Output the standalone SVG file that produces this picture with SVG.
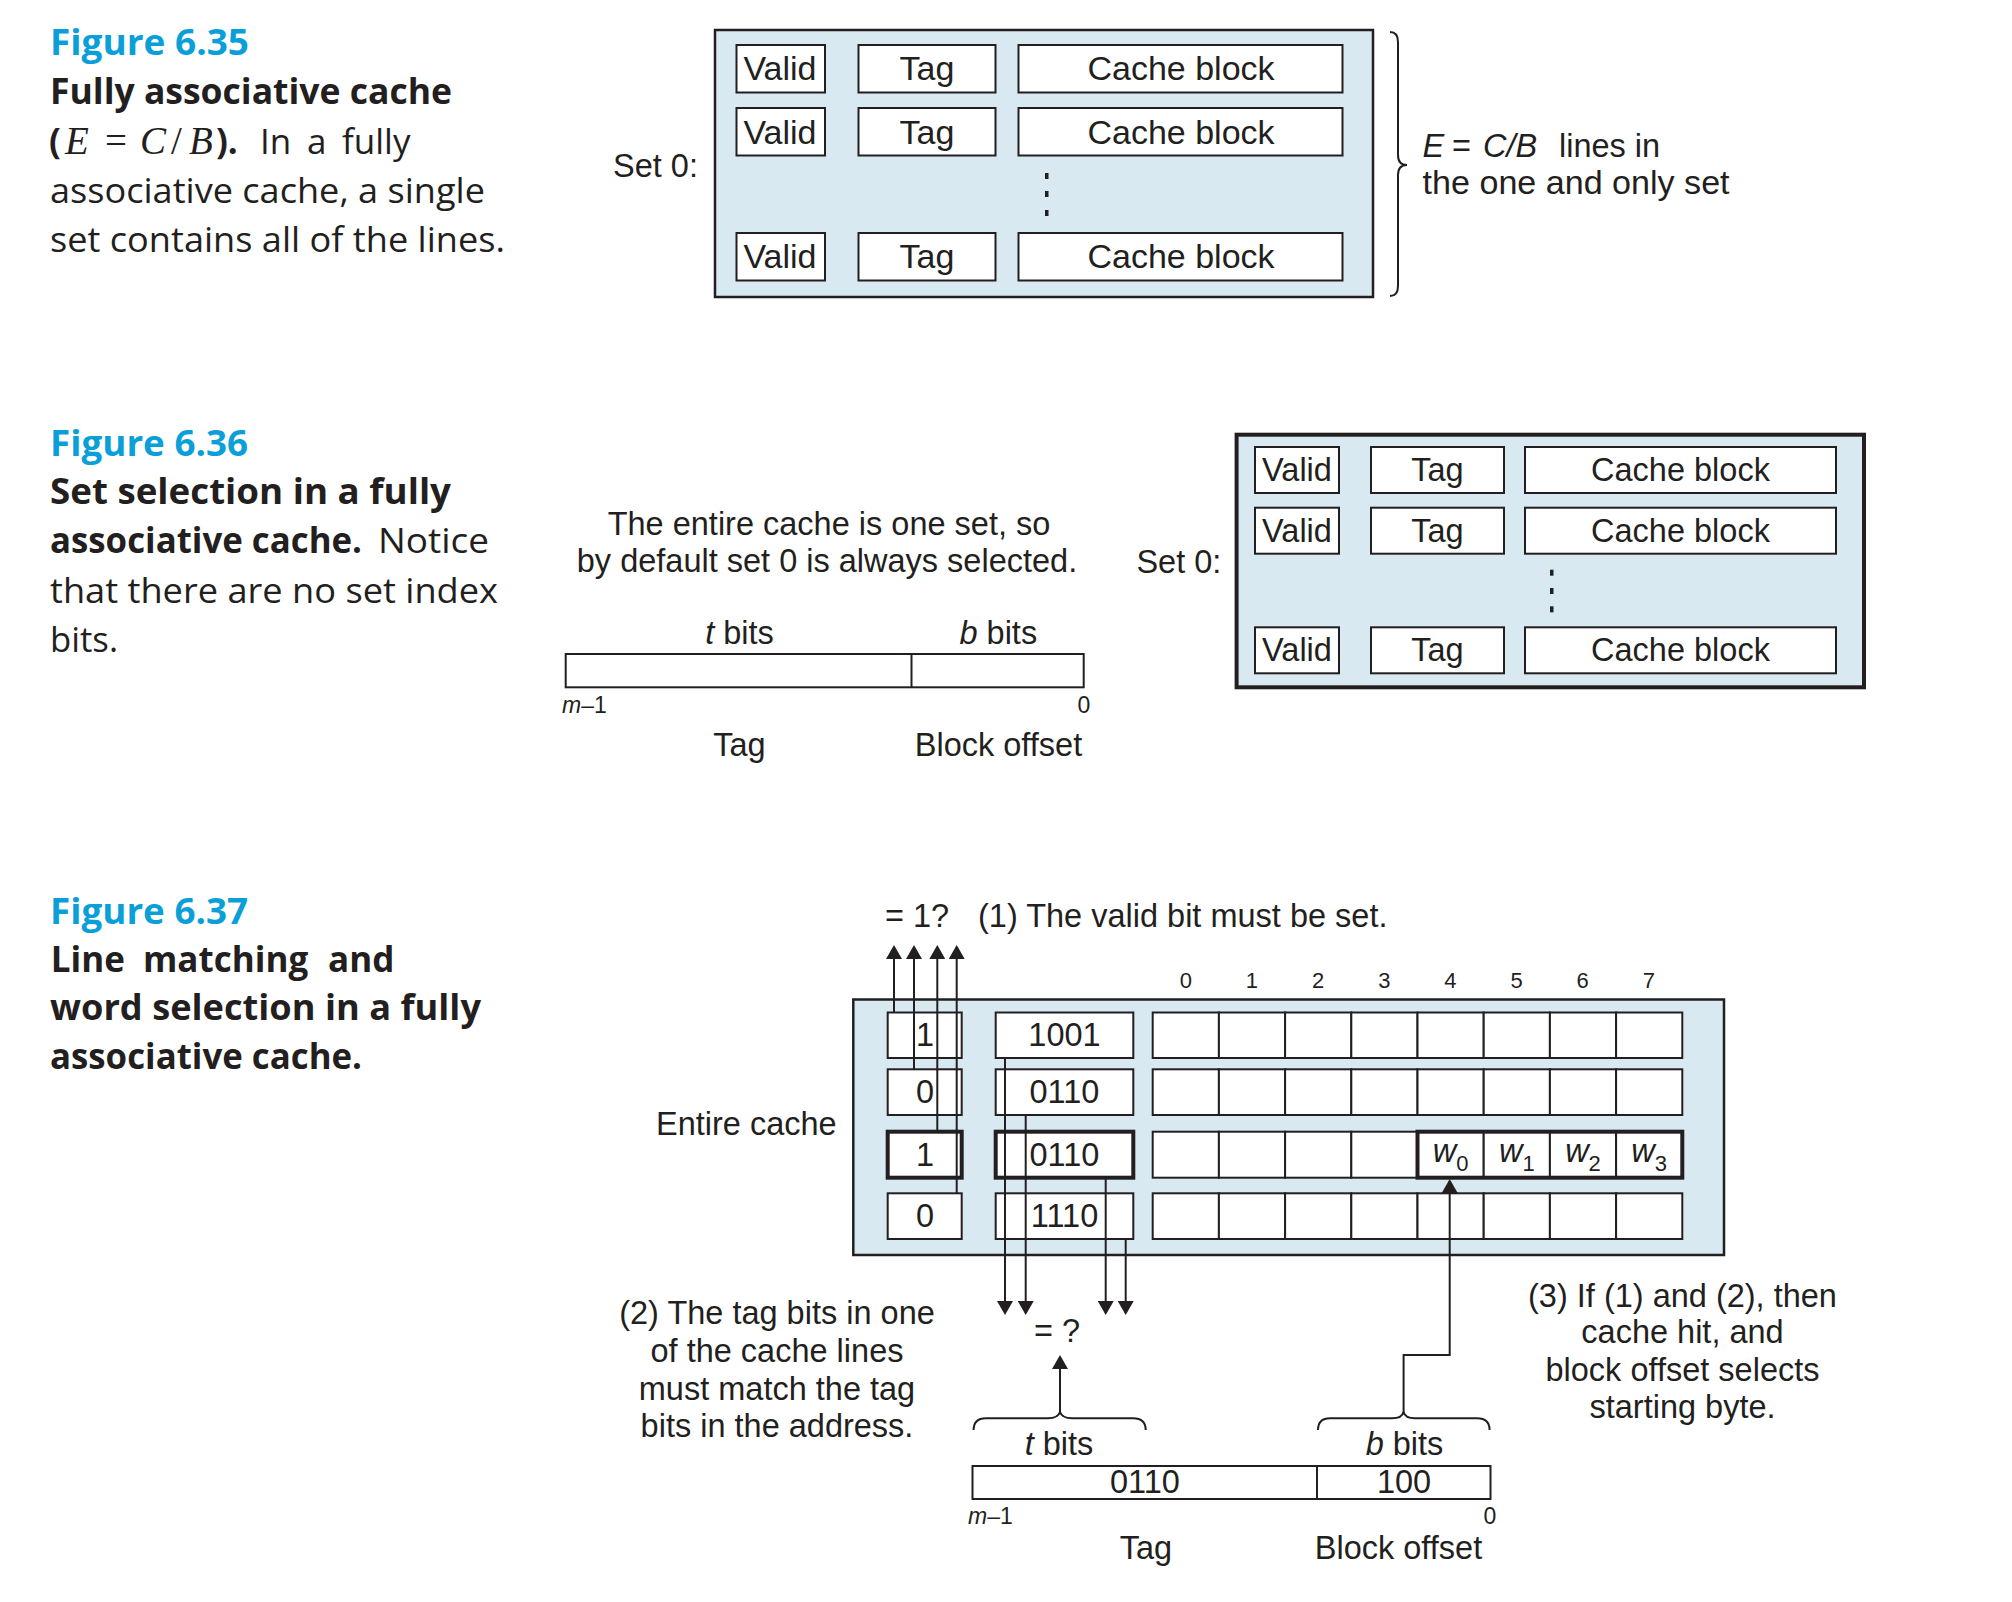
<svg xmlns="http://www.w3.org/2000/svg" width="2012" height="1602" viewBox="0 0 2012 1602">
<defs>
<style>
.bg{fill:#ffffff}
.panel{fill:#d9e9f1;stroke:#231f20;stroke-width:2.5}
.panel4{fill:#d9e9f1;stroke:#231f20;stroke-width:4}
.box{fill:#ffffff;stroke:#231f20;stroke-width:2}
.tbox{fill:#ffffff;stroke:#231f20;stroke-width:4}
.thick{fill:none;stroke:#231f20;stroke-width:4}
.wire{fill:none;stroke:#231f20;stroke-width:2}
.dot{fill:#231f20}
.t{font-family:"Liberation Sans",Arial,sans-serif;fill:#231f20;font-size:32.5px}
.c{text-anchor:middle}
.cell{font-size:34px}
.num{font-size:22px}
.small{font-size:23px}
.i{font-style:italic}
.cap{font-family:"Open Sans","Noto Sans",sans-serif;fill:#231f20;font-size:35px}
.capb{font-weight:700}
.ttl{font-family:"Open Sans","Noto Sans",sans-serif;font-weight:700;fill:#0a9fd8;font-size:35px}
.math{font-family:"Liberation Serif","Times New Roman",serif;font-size:39px}
</style>
<marker id="ah" viewBox="0 0 14 16" refX="12" refY="8" markerWidth="14" markerHeight="16" markerUnits="userSpaceOnUse" orient="auto">
<path d="M0,0 L14,8 L0,16 Z" fill="#231f20"/>
</marker>
</defs>
<rect class="bg" x="0" y="0" width="2012" height="1602"/>

<!-- ========== Figure 6.35 caption ========== -->
<g id="cap635">
<text class="ttl" x="50" y="55" textLength="199" lengthAdjust="spacingAndGlyphs">Figure 6.35</text>
<text class="cap capb" x="50" y="104" textLength="402" lengthAdjust="spacingAndGlyphs">Fully associative cache</text>
<text class="cap" y="154"><tspan x="49" class="capb">(</tspan><tspan x="65" class="math i">E</tspan><tspan x="105" class="math">=</tspan><tspan x="140" class="math i">C</tspan><tspan x="171" class="math">/</tspan><tspan x="189" class="math i">B</tspan><tspan x="216" class="capb">).</tspan><tspan x="260">In</tspan><tspan x="307">a</tspan><tspan x="342">fully</tspan></text>
<text class="cap" x="50" y="203" textLength="435" lengthAdjust="spacingAndGlyphs">associative cache, a single</text>
<text class="cap" x="50" y="252" textLength="455" lengthAdjust="spacingAndGlyphs">set contains all of the lines.</text>
</g>

<!-- ========== Figure 6.35 diagram ========== -->
<g id="set635">
<rect class="panel" x="715" y="30" width="658" height="267"/>
<text class="t" x="613" y="177">Set 0:</text>
</g>
<g id="line635a">
<rect class="box" x="736.5" y="45" width="88.5" height="47.5"/>
<rect class="box" x="858.5" y="45" width="137" height="47.5"/>
<rect class="box" x="1018.5" y="45" width="324" height="47.5"/>
<text class="t c cell" x="780" y="80">Valid</text>
<text class="t c cell" x="927" y="80">Tag</text>
<text class="t c cell" x="1181" y="80">Cache block</text>
</g>
<g id="line635b">
<rect class="box" x="736.5" y="108" width="88.5" height="47.5"/>
<rect class="box" x="858.5" y="108" width="137" height="47.5"/>
<rect class="box" x="1018.5" y="108" width="324" height="47.5"/>
<text class="t c cell" x="780" y="143.5">Valid</text>
<text class="t c cell" x="927" y="143.5">Tag</text>
<text class="t c cell" x="1181" y="143.5">Cache block</text>
</g>
<g id="dots635">
<rect class="dot" x="1045" y="173" width="3.5" height="6"/>
<rect class="dot" x="1045" y="191" width="3.5" height="6"/>
<rect class="dot" x="1045" y="210" width="3.5" height="6"/>
</g>
<g id="line635c">
<rect class="box" x="736.5" y="233" width="88.5" height="47.5"/>
<rect class="box" x="858.5" y="233" width="137" height="47.5"/>
<rect class="box" x="1018.5" y="233" width="324" height="47.5"/>
<text class="t c cell" x="780" y="268">Valid</text>
<text class="t c cell" x="927" y="268">Tag</text>
<text class="t c cell" x="1181" y="268">Cache block</text>
</g>
<g id="brace635">
<path class="wire" d="M1390,32 Q1398,32 1398,42 L1398,155 Q1398,165 1407,165 Q1398,165 1398,175 L1398,286 Q1398,296 1390,296"/>
<text class="t" y="156.7"><tspan x="1422.6" class="i">E</tspan><tspan x="1452">=</tspan><tspan x="1483" class="i">C/B</tspan><tspan x="1559">lines in</tspan></text>
<text class="t" x="1422.6" y="194" textLength="307" lengthAdjust="spacingAndGlyphs">the one and only set</text>
</g>

<!-- ========== Figure 6.36 caption ========== -->
<g id="cap636">
<text class="ttl" x="50" y="456" textLength="198" lengthAdjust="spacingAndGlyphs">Figure 6.36</text>
<text class="cap capb" x="50" y="504" textLength="401" lengthAdjust="spacingAndGlyphs">Set selection in a fully</text>
<text class="cap capb" x="50" y="553" textLength="312" lengthAdjust="spacingAndGlyphs">associative cache.</text>
<text class="cap" x="378" y="553" textLength="111" lengthAdjust="spacingAndGlyphs">Notice</text>
<text class="cap" x="50" y="603" textLength="448" lengthAdjust="spacingAndGlyphs">that there are no set index</text>
<text class="cap" x="50" y="652" textLength="68" lengthAdjust="spacingAndGlyphs">bits.</text>
</g>

<!-- ========== Figure 6.36 address ========== -->
<g id="note636">
<text class="t c" x="829" y="535">The entire cache is one set, so</text>
<text class="t c" x="827" y="571.7">by default set 0 is always selected.</text>
</g>
<g id="addr636">
<rect class="box" x="565.7" y="654" width="518" height="33.3"/>
<line class="wire" x1="911.5" y1="654" x2="911.5" y2="687.3"/>
<text class="t c" x="739.5" y="644"><tspan class="i">t</tspan> bits</text>
<text class="t c" x="998.3" y="644"><tspan class="i">b</tspan> bits</text>
<text class="t small" x="562" y="713"><tspan class="i">m</tspan>–1</text>
<text class="t small c" x="1084" y="713">0</text>
<text class="t c" x="739.5" y="756">Tag</text>
<text class="t c" x="998.5" y="756">Block offset</text>
</g>

<!-- ========== Figure 6.36 set ========== -->
<g id="set636">
<rect class="panel4" x="1236.6" y="434.7" width="627.4" height="252.6"/>
<text class="t" x="1136.4" y="572.7">Set 0:</text>
</g>
<g id="line636a">
<rect class="box" x="1255" y="447" width="84" height="46"/>
<rect class="box" x="1371" y="447" width="133" height="46"/>
<rect class="box" x="1525" y="447" width="311" height="46"/>
<text class="t c" x="1297" y="481">Valid</text>
<text class="t c" x="1437.5" y="481">Tag</text>
<text class="t c" x="1680.5" y="481">Cache block</text>
</g>
<g id="line636b">
<rect class="box" x="1255" y="507.7" width="84" height="46"/>
<rect class="box" x="1371" y="507.7" width="133" height="46"/>
<rect class="box" x="1525" y="507.7" width="311" height="46"/>
<text class="t c" x="1297" y="541.5">Valid</text>
<text class="t c" x="1437.5" y="541.5">Tag</text>
<text class="t c" x="1680.5" y="541.5">Cache block</text>
</g>
<g id="dots636">
<rect class="dot" x="1550" y="569.7" width="3.5" height="6"/>
<rect class="dot" x="1550" y="588" width="3.5" height="6"/>
<rect class="dot" x="1550" y="606.3" width="3.5" height="6"/>
</g>
<g id="line636c">
<rect class="box" x="1255" y="627.3" width="84" height="46"/>
<rect class="box" x="1371" y="627.3" width="133" height="46"/>
<rect class="box" x="1525" y="627.3" width="311" height="46"/>
<text class="t c" x="1297" y="661">Valid</text>
<text class="t c" x="1437.5" y="661">Tag</text>
<text class="t c" x="1680.5" y="661">Cache block</text>
</g>

<!-- ========== Figure 6.37 caption ========== -->
<g id="cap637">
<text class="ttl" x="50" y="924" textLength="198" lengthAdjust="spacingAndGlyphs">Figure 6.37</text>
<text class="cap capb" y="972"><tspan x="50.7">Line</tspan><tspan x="143">matching</tspan><tspan x="328">and</tspan></text>
<text class="cap capb" x="50" y="1020" textLength="431" lengthAdjust="spacingAndGlyphs">word selection in a fully</text>
<text class="cap capb" x="50" y="1068.5" textLength="312" lengthAdjust="spacingAndGlyphs">associative cache.</text>
</g>

<!-- ========== Figure 6.37 diagram ========== -->
<g id="cache637">
<rect class="panel" x="853.3" y="999.5" width="870.7" height="255.5"/>
<text class="t" x="656" y="1135">Entire cache</text>
<text class="t" x="885" y="926.7">= 1?</text>
<text class="t" x="978" y="926.7">(1) The valid bit must be set.</text>
<g class="t num c">
<text x="1185.8" y="988">0</text>
<text x="1251.9" y="988">1</text>
<text x="1318.1" y="988">2</text>
<text x="1384.3" y="988">3</text>
<text x="1450.4" y="988">4</text>
<text x="1516.6" y="988">5</text>
<text x="1582.7" y="988">6</text>
<text x="1648.9" y="988">7</text>
</g>
</g>

<g id="row1">
<rect class="box" x="887.7" y="1012.5" width="74" height="45.5"/>
<rect class="box" x="995.7" y="1012.5" width="137.6" height="45.5"/>
<g class="box">
<rect x="1152.7" y="1012.5" width="66.2" height="45.5"/><rect x="1218.9" y="1012.5" width="66.2" height="45.5"/><rect x="1285.1" y="1012.5" width="66.2" height="45.5"/><rect x="1351.3" y="1012.5" width="66.2" height="45.5"/><rect x="1417.5" y="1012.5" width="66.2" height="45.5"/><rect x="1483.7" y="1012.5" width="66.2" height="45.5"/><rect x="1549.9" y="1012.5" width="66.2" height="45.5"/><rect x="1616.1" y="1012.5" width="66.2" height="45.5"/>
</g>
<text class="t c" x="925" y="1045.8" font-size="31.5">1</text>
<text class="t c" x="1064.5" y="1045.8" font-size="31.5">1001</text>
</g>
<g id="row2">
<rect class="box" x="887.7" y="1069.3" width="74" height="45.7"/>
<rect class="box" x="995.7" y="1069.3" width="137.6" height="45.7"/>
<g class="box">
<rect x="1152.7" y="1069.3" width="66.2" height="45.7"/><rect x="1218.9" y="1069.3" width="66.2" height="45.7"/><rect x="1285.1" y="1069.3" width="66.2" height="45.7"/><rect x="1351.3" y="1069.3" width="66.2" height="45.7"/><rect x="1417.5" y="1069.3" width="66.2" height="45.7"/><rect x="1483.7" y="1069.3" width="66.2" height="45.7"/><rect x="1549.9" y="1069.3" width="66.2" height="45.7"/><rect x="1616.1" y="1069.3" width="66.2" height="45.7"/>
</g>
<text class="t c" x="925" y="1102.7" font-size="31.5">0</text>
<text class="t c" x="1064.5" y="1102.7" font-size="31.5">0110</text>
</g>
<g id="row3">
<rect class="tbox" x="887.7" y="1131.7" width="74" height="46"/>
<rect class="tbox" x="995.7" y="1131.7" width="137.6" height="46"/>
<g class="box">
<rect x="1152.7" y="1131.7" width="66.2" height="46"/><rect x="1218.9" y="1131.7" width="66.2" height="46"/><rect x="1285.1" y="1131.7" width="66.2" height="46"/><rect x="1351.3" y="1131.7" width="66.2" height="46"/><rect x="1417.5" y="1131.7" width="66.2" height="46"/><rect x="1483.7" y="1131.7" width="66.2" height="46"/><rect x="1549.9" y="1131.7" width="66.2" height="46"/><rect x="1616.1" y="1131.7" width="66.2" height="46"/>
</g>
<rect class="thick" x="1417.5" y="1131.7" width="264.8" height="46"/>
<text class="t c" x="925" y="1165.5" font-size="31.5">1</text>
<text class="t c" x="1064.5" y="1165.5" font-size="31.5">0110</text>
<text class="t c" x="1450.6" y="1161.7"><tspan class="i">w</tspan><tspan font-size="22" dy="9">0</tspan></text>
<text class="t c" x="1516.8" y="1161.7"><tspan class="i">w</tspan><tspan font-size="22" dy="9">1</tspan></text>
<text class="t c" x="1583" y="1161.7"><tspan class="i">w</tspan><tspan font-size="22" dy="9">2</tspan></text>
<text class="t c" x="1649.2" y="1161.7"><tspan class="i">w</tspan><tspan font-size="22" dy="9">3</tspan></text>
</g>
<g id="row4">
<rect class="box" x="887.7" y="1193.3" width="74" height="45.7"/>
<rect class="box" x="995.7" y="1193.3" width="137.6" height="45.7"/>
<g class="box">
<rect x="1152.7" y="1193.3" width="66.2" height="45.7"/><rect x="1218.9" y="1193.3" width="66.2" height="45.7"/><rect x="1285.1" y="1193.3" width="66.2" height="45.7"/><rect x="1351.3" y="1193.3" width="66.2" height="45.7"/><rect x="1417.5" y="1193.3" width="66.2" height="45.7"/><rect x="1483.7" y="1193.3" width="66.2" height="45.7"/><rect x="1549.9" y="1193.3" width="66.2" height="45.7"/><rect x="1616.1" y="1193.3" width="66.2" height="45.7"/>
</g>
<text class="t c" x="925" y="1226.7" font-size="31.5">0</text>
<text class="t c" x="1064.5" y="1226.7" font-size="31.5">1110</text>
</g>

<g id="eqq">
<text class="t c" x="1057" y="1341.7" font-size="30">= ?</text>
</g>

<g id="note2">
<text class="t c" x="777" y="1324">(2) The tag bits in one</text>
<text class="t c" x="777" y="1362">of the cache lines</text>
<text class="t c" x="777" y="1399.5">must match the tag</text>
<text class="t c" x="777" y="1437">bits in the address.</text>
</g>
<g id="note3">
<text class="t c" x="1682.5" y="1306.7">(3) If (1) and (2), then</text>
<text class="t c" x="1682.5" y="1343.3">cache hit, and</text>
<text class="t c" x="1682.5" y="1380.7">block offset selects</text>
<text class="t c" x="1682.5" y="1417.7">starting byte.</text>
</g>

<g id="addr637">
<rect class="box" x="972.5" y="1466" width="518" height="33"/>
<line class="wire" x1="1317" y1="1466" x2="1317" y2="1499"/>
<text class="t c" x="1145" y="1492.7" font-size="31.5">0110</text>
<text class="t c" x="1404" y="1492.7" font-size="31.5">100</text>
<text class="t c" x="1059" y="1455"><tspan class="i">t</tspan> bits</text>
<text class="t c" x="1404.5" y="1455"><tspan class="i">b</tspan> bits</text>
<text class="t small" x="968" y="1524"><tspan class="i">m</tspan>–1</text>
<text class="t small c" x="1490" y="1524">0</text>
<text class="t c" x="1146" y="1559">Tag</text>
<text class="t c" x="1398.5" y="1559">Block offset</text>
</g>

<!-- ========== connectors ========== -->
<g id="connectors">
<path class="wire" d="M894,1012.5 V947" marker-end="url(#ah)"/>
<path class="wire" d="M914,1069.3 V947" marker-end="url(#ah)"/>
<path class="wire" d="M937.3,1131.7 V947" marker-end="url(#ah)"/>
<path class="wire" d="M956.7,1193.3 V947" marker-end="url(#ah)"/>
<path class="wire" d="M1005,1058 V1313" marker-end="url(#ah)"/>
<path class="wire" d="M1025.7,1115 V1313" marker-end="url(#ah)"/>
<path class="wire" d="M1105.7,1177.7 V1313" marker-end="url(#ah)"/>
<path class="wire" d="M1125.7,1239 V1313" marker-end="url(#ah)"/>
<path class="wire" d="M1060,1413 V1357" marker-end="url(#ah)"/>
<path class="wire" d="M1403.6,1413 V1355 H1449.7 V1181" marker-end="url(#ah)"/>
<path class="wire" d="M973.6,1430 Q973.6,1418.3 986,1418.3 L1048,1418.3 Q1058,1418.3 1060,1412 Q1062,1418.3 1072,1418.3 L1133,1418.3 Q1145.7,1418.3 1145.7,1430"/>
<path class="wire" d="M1318,1430 Q1318,1418.3 1330,1418.3 L1392,1418.3 Q1402,1418.3 1403.6,1412 Q1405.2,1418.3 1415,1418.3 L1477,1418.3 Q1489.6,1418.3 1489.6,1430"/>
</g>
</svg>
